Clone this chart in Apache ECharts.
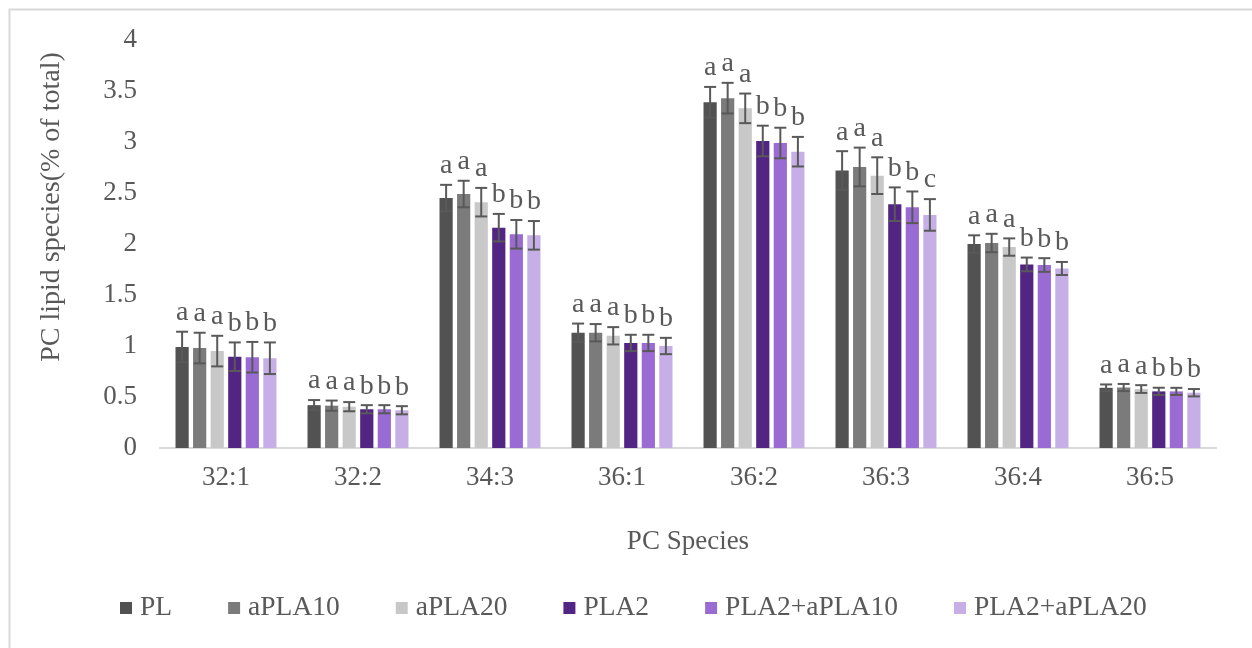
<!DOCTYPE html>
<html>
<head>
<meta charset="utf-8">
<script src="https://cdn.jsdelivr.net/npm/echarts@6/dist/echarts.min.js"></script>
<style>
html,body{margin:0;padding:0;background:#fff;}
#chart{width:1252px;height:648px;}
</style>
</head>
<body>
<div id="chart"></div>
<script>
const categories = ['32:1','32:2','34:3','36:1','36:2','36:3','36:4','36:5'];
const seriesNames = ['PL','aPLA10','aPLA20','PLA2','PLA2+aPLA10','PLA2+aPLA20'];
const PL          = [0.99, 0.42, 2.45, 1.13, 3.39, 2.72, 2.00, 0.59];
const aPLA10      = [0.98, 0.415, 2.49, 1.13, 3.43, 2.755, 2.01, 0.593];
const aPLA20      = [0.95, 0.405, 2.41, 1.10, 3.33, 2.67, 1.97, 0.578];
const PLA2        = [0.895, 0.38, 2.16, 1.03, 3.01, 2.39, 1.80, 0.555];
const PLA2_aPLA10 = [0.89, 0.38, 2.095, 1.03, 2.99, 2.36, 1.794, 0.555];
const PLA2_aPLA20 = [0.88, 0.37, 2.085, 1.00, 2.905, 2.285, 1.76, 0.542];
const PL_err          = [0.15, 0.05, 0.13, 0.09, 0.15, 0.19, 0.085, 0.033];
const aPLA10_err      = [0.15, 0.05, 0.13, 0.085, 0.15, 0.19, 0.09, 0.035];
const aPLA20_err      = [0.15, 0.045, 0.14, 0.085, 0.145, 0.18, 0.085, 0.038];
const PLA2_err        = [0.14, 0.04, 0.135, 0.08, 0.15, 0.165, 0.067, 0.036];
const PLA2_aPLA10_err = [0.15, 0.04, 0.14, 0.08, 0.15, 0.155, 0.067, 0.035];
const PLA2_aPLA20_err = [0.155, 0.04, 0.14, 0.08, 0.145, 0.155, 0.064, 0.036];
const PL_letters          = ['a','a','a','a','a','a','a','a'];
const aPLA10_letters      = ['a','a','a','a','a','a','a','a'];
const aPLA20_letters      = ['a','a','a','a','a','a','a','a'];
const PLA2_letters        = ['b','b','b','b','b','b','b','b'];
const PLA2_aPLA10_letters = ['b','b','b','b','b','b','b','b'];
const PLA2_aPLA20_letters = ['b','b','b','b','b','c','b','b'];
const yTicks = {min: 0, max: 4, interval: 0.5};

const values = [PL, aPLA10, aPLA20, PLA2, PLA2_aPLA10, PLA2_aPLA20];
const errors = [PL_err, aPLA10_err, aPLA20_err, PLA2_err, PLA2_aPLA10_err, PLA2_aPLA20_err];
const letters = [PL_letters, aPLA10_letters, aPLA20_letters, PLA2_letters, PLA2_aPLA10_letters, PLA2_aPLA20_letters];
const colors = ['#525252','#7b7b7b','#c8c8c8','#522483','#9a6bd3','#c6afe6'];

const FONT = '"Liberation Serif", "Times New Roman", serif';
const TXT = '#595959';
const BAR_GAP = 0.33, CAT_GAP = 0.235, N = seriesNames.length;

const series = [];
seriesNames.forEach((name, i) => {
  series.push({
    name: name, type: 'bar', data: values[i],
    barGap: (BAR_GAP*100) + '%', barCategoryGap: (CAT_GAP*100) + '%',
    itemStyle: {color: colors[i]}, z: 2
  });
});
seriesNames.forEach((name, i) => {
  series.push({
    name: 'err_' + name, type: 'custom', z: 5,
    data: categories.map((c, k) => [k, values[i][k], errors[i][k]]),
    renderItem: function (params, api) {
      const k = api.value(0), v = api.value(1), e = api.value(2);
      const letter = letters[i][k];
      const band = api.size([1, 0])[0];
      const avail = band * (1 - CAT_GAP);
      const bw = avail / (N + (N - 1) * BAR_GAP);
      const center = api.coord([k, v]);
      const x = center[0] - avail / 2 + bw / 2 + i * bw * (1 + BAR_GAP);
      const yTop = api.coord([k, v + e])[1];
      const yBot = api.coord([k, v - e])[1];
      const cap = 6;
      const ls = {stroke: '#595959', lineWidth: 2};
      return {
        type: 'group',
        children: [
          {type: 'line', shape: {x1: x, y1: yTop, x2: x, y2: yBot}, style: ls},
          {type: 'line', shape: {x1: x - cap, y1: yTop, x2: x + cap, y2: yTop}, style: ls},
          {type: 'line', shape: {x1: x - cap, y1: yBot, x2: x + cap, y2: yBot}, style: ls},
          {type: 'text', x: x, y: yTop - 19, style: {text: letter, fill: TXT, font: '28px ' + FONT, align: 'center', verticalAlign: 'middle'}}
        ]
      };
    }
  });
});

const chart = echarts.init(document.getElementById('chart'), null, {renderer: 'canvas'});
chart.setOption({
  animation: false,
  backgroundColor: '#ffffff',
  textStyle: {fontFamily: FONT, color: TXT},
  grid: {left: 160, right: 36, top: 40, bottom: 200, containLabel: false, outerBoundsMode: 'none'},
  legend: {
    data: seriesNames, left: 120, top: 594, padding: 0, itemWidth: 12, itemHeight: 12, itemGap: 56,
    icon: 'rect',
    textStyle: {fontFamily: FONT, fontSize: 27.5, color: TXT, padding: [0, 0, 0, 3]}
  },
  xAxis: {
    type: 'category', data: categories,
    axisLine: {lineStyle: {color: '#d9d9d9', width: 2}},
    axisTick: {show: false},
    axisLabel: {fontFamily: FONT, fontSize: 27, color: TXT, margin: 16},
    name: 'PC Species', nameLocation: 'middle', nameGap: 80,
    nameTextStyle: {fontFamily: FONT, fontSize: 27, color: TXT}
  },
  yAxis: {
    type: 'value', min: yTicks.min, max: yTicks.max, interval: yTicks.interval,
    axisLine: {show: false}, axisTick: {show: false}, splitLine: {show: false},
    axisLabel: {fontFamily: FONT, fontSize: 27, color: TXT, margin: 23}
  },
  graphic: [
    {type: 'rect', left: 7, top: 7, shape: {width: 1270, height: 680}, style: {fill: 'none', stroke: '#d9d9d9', lineWidth: 2}, z: -1},
    {type: 'text', x: 52, y: 207, rotation: Math.PI / 2, style: {text: 'PC lipid species(% of total)', font: '28px ' + FONT, fill: TXT, align: 'center', verticalAlign: 'middle'}}
  ],
  series: series
});
</script>
</body>
</html>
